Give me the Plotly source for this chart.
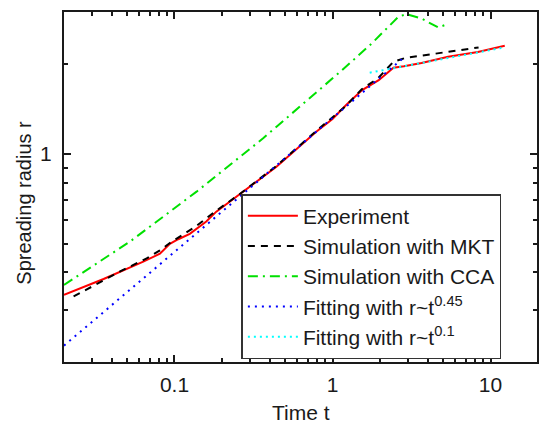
import plotly.graph_objects as go

# Experiment
exp_t = [0.02, 0.0356, 0.0635, 0.0809, 0.0935, 0.1057, 0.125, 0.159, 0.184, 0.246,
         0.442, 0.789, 1.0, 1.22, 1.54, 1.96, 2.31, 2.43, 2.83, 3.66, 5.39, 8.32, 12.3]
exp_r = [0.336, 0.380, 0.435, 0.462, 0.499, 0.517, 0.539, 0.593, 0.640, 0.719,
         0.906, 1.188, 1.31, 1.46, 1.64, 1.77, 1.91, 1.95, 1.97, 2.02, 2.12, 2.20, 2.31]

# Simulation with MKT
mkt_t = [0.023, 0.0293, 0.0365, 0.0453, 0.0667, 0.0809, 0.0935, 0.119, 0.1377, 0.184,
         0.258, 0.442, 0.789, 1.20, 1.53, 1.95, 2.43, 2.87, 3.85, 6.86, 8.4]
mkt_r = [0.332, 0.356, 0.378, 0.403, 0.446, 0.474, 0.502, 0.544, 0.573, 0.645,
         0.732, 0.912, 1.195, 1.44, 1.65, 1.80, 2.04, 2.10, 2.15, 2.24, 2.28]

# Simulation with CCA
cca_t = [0.02, 0.0524, 0.138, 0.364, 1.146, 1.77, 2.61, 2.94, 3.66, 4.44, 4.67, 5.14]
cca_r = [0.363, 0.508, 0.747, 1.129, 1.91, 2.35, 2.89, 2.95, 2.85, 2.71, 2.66, 2.71]

# Fits
fit45_t = [0.02, 2.8]
fit45_r = [0.227, 2.10]
fit01_t = [1.72, 11.7]
fit01_r = [1.875, 2.27]

x_major = [0.1, 1, 10]
x_major_text = ["0.1", "1", "10"]
x_minor = [0.03, 0.04, 0.05, 0.06, 0.07, 0.08, 0.09,
           0.2, 0.3, 0.4, 0.5, 0.6, 0.7, 0.8, 0.9,
           2, 3, 4, 5, 6, 7, 8, 9]
y_major = [1]
y_major_text = ["1"]
y_minor = [0.3, 0.4, 0.5, 0.6, 0.7, 0.8, 0.9, 2]

FONT = "Liberation Sans, Arial, sans-serif"

fig = go.Figure()
fig.add_trace(go.Scatter(x=exp_t, y=exp_r, mode="lines", name="Experiment",
                         line=dict(color="#ff0000", width=2)))
fig.add_trace(go.Scatter(x=mkt_t, y=mkt_r, mode="lines", name="Simulation with MKT",
                         line=dict(color="#000000", width=2, dash="7px,6px")))
fig.add_trace(go.Scatter(x=cca_t, y=cca_r, mode="lines", name="Simulation with CCA",
                         line=dict(color="#00e000", width=2, dash="10px,5px,2px,5px")))
fig.add_trace(go.Scatter(x=fit45_t, y=fit45_r, mode="lines",
                         name="Fitting with r~t<sup>0.45</sup>",
                         line=dict(color="#0000ff", width=2, dash="2px,5px")))
fig.add_trace(go.Scatter(x=fit01_t, y=fit01_r, mode="lines",
                         name="Fitting with r~t<sup>0.1</sup>",
                         line=dict(color="#00ffff", width=2, dash="2px,4px")))

axis_common = dict(
    type="log", showgrid=False, zeroline=False, showline=True,
    linecolor="#1a1a1a", linewidth=2, mirror="allticks",
    ticks="inside", ticklen=7, tickwidth=1.5, tickcolor="#1a1a1a",
    tickfont=dict(family=FONT, size=21, color="#1a1a1a"),
    tickmode="array",
)

fig.update_xaxes(**axis_common, range=[-1.699, 1.294],
                 tickvals=x_major, ticktext=x_major_text,
                 ticklabelstandoff=3,
                 minor=dict(tickmode="array", tickvals=x_minor, ticks="inside",
                            ticklen=4, tickwidth=1.5, tickcolor="#1a1a1a"))
fig.update_yaxes(**axis_common, range=[-0.699, 0.477],
                 tickvals=y_major, ticktext=y_major_text,
                 ticklabelstandoff=6,
                 minor=dict(tickmode="array", tickvals=y_minor, ticks="inside",
                            ticklen=4, tickwidth=1.5, tickcolor="#1a1a1a"))

fig.update_layout(
    width=539, height=425,
    margin=dict(l=64, r=0, t=12, b=63),
    paper_bgcolor="white", plot_bgcolor="white",
    font=dict(family=FONT, color="#1a1a1a"),
    showlegend=True,
    legend=dict(x=0.375, y=(362 - 194) / 350, xanchor="left", yanchor="top",
                bgcolor="white", bordercolor="#333333", borderwidth=1.5,
                font=dict(family=FONT, size=21, color="#1a1a1a"),
                tracegroupgap=0, itemwidth=50),
    annotations=[
        dict(text="Time t", xref="paper", yref="paper", x=(302 - 64) / 475,
             y=(362 - 412) / 350, xanchor="center", yanchor="middle",
             showarrow=False, font=dict(family=FONT, size=21, color="#1a1a1a")),
        dict(text="Spreading radius r", xref="paper", yref="paper",
             x=(23 - 64) / 475, y=(362 - 202.5) / 350, xanchor="center",
             yanchor="middle", textangle=-90, showarrow=False,
             font=dict(family=FONT, size=20, color="#1a1a1a")),
    ],
)

fig.write_html("out.html")
